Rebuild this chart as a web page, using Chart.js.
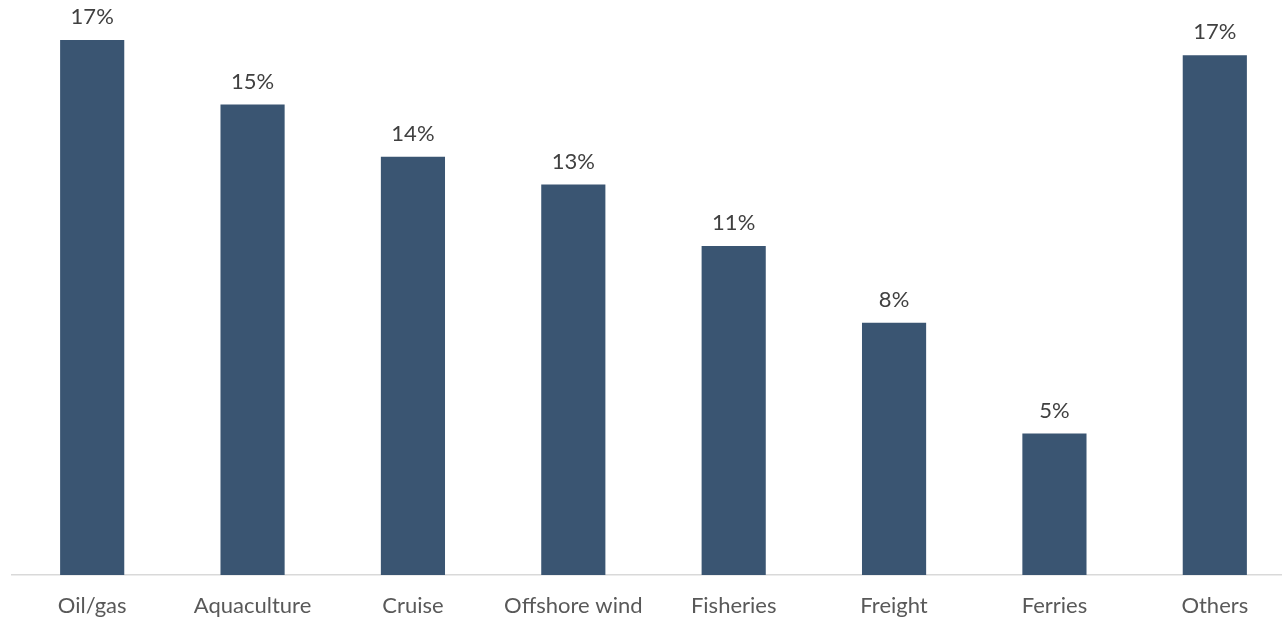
<!DOCTYPE html>
<html>
<head>
<meta charset="utf-8">
<script src="https://cdn.jsdelivr.net/npm/chart.js@4/dist/chart.umd.min.js"></script>
<style>
  html, body { margin: 0; padding: 0; background: #fff; overflow: hidden; }
  #wrap { width: 1295px; height: 618px; }
</style>
</head>
<body>
<div id="wrap"><canvas id="sectorChart"></canvas></div>
<script>
// Share by sector (%)
const sectors = ['Oil/gas', 'Aquaculture', 'Cruise', 'Offshore wind', 'Fisheries', 'Freight', 'Ferries', 'Others'];
const shares = [17.4, 15.3, 13.6, 12.7, 10.7, 8.2, 4.6, 16.9];
const shareLabels = ['17%', '15%', '14%', '13%', '11%', '8%', '5%', '17%'];

// Draws the percentage above each bar
const barLabels = {
    id: 'barLabels',
    afterDatasetsDraw(chart) {
        const ctx = chart.ctx;
        const meta = chart.getDatasetMeta(0);
        ctx.save();
        ctx.font = '22px Lato';
        ctx.fillStyle = '#404040';
        ctx.textAlign = 'center';
        ctx.textBaseline = 'middle';
        meta.data.forEach((bar, i) => {
            ctx.fillText(shareLabels[i], bar.x, bar.y - 23);
        });
        ctx.restore();
    }
};

const sectorCtx = document.getElementById('sectorChart').getContext('2d');
new Chart(sectorCtx, {
    type: 'bar',
    data: {
        labels: sectors,
        datasets: [{
            data: shares,
            backgroundColor: '#3A5572',
            categoryPercentage: 1,
            barPercentage: 0.4
        }]
    },
    options: {
        responsive: true,
        maintainAspectRatio: false,
        animation: false,
        layout: { padding: { left: 12, right: 0, top: 0, bottom: 0 } },
        plugins: {
            legend: { display: false },
            tooltip: { enabled: false }
        },
        scales: {
            x: {
                grid: { display: false, drawTicks: false },
                border: { color: '#d9d9d9', width: 1.5 },
                ticks: {
                    padding: 18,
                    color: '#595959',
                    font: { family: 'Lato', size: 22 }
                },
                afterFit(scale) { scale.height = 43; }
            },
            y: {
                display: false,
                min: 0,
                max: 18.7
            }
        }
    },
    plugins: [barLabels]
});
</script>
</body>
</html>
